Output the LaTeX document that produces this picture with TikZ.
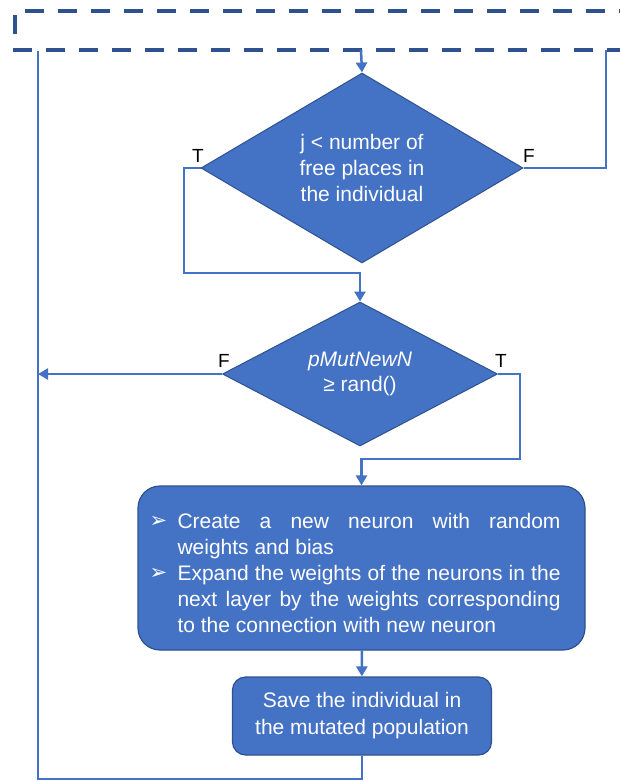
\documentclass[tikz,border=0pt]{standalone}
\usepackage{fontspec}
\setmainfont{Liberation Sans}
\newfontfamily\dejavu{DejaVu Sans}
\usetikzlibrary{shapes.geometric,arrows.meta}
\definecolor{fillblue}{HTML}{4472C4}
\definecolor{edgeblue}{HTML}{2F528F}
\newcommand\bitem[1]{\par\noindent\hangindent=28pt\hangafter=1\makebox[28pt][l]{\raisebox{1pt}{\dejavu\fontsize{21}{21}\selectfont ➢}}#1\par}
\begin{document}
\begin{tikzpicture}[x=1pt,y=-1pt,
  conn/.style={draw=fillblue, line width=2.5pt},
  arr/.style={conn, -{Triangle[length=10pt,width=11pt]}},
  dec/.style={diamond, draw=edgeblue, fill=fillblue, line width=1pt, inner sep=0pt, text=white, align=center, font=\fontsize{21}{25.7}\selectfont},
  proc/.style={rectangle, draw=edgeblue, fill=fillblue, line width=1.2pt, text=white, align=center, font=\fontsize{21}{27}\selectfont},
  lab/.style={font=\fontsize{19}{19}\selectfont, text=black, inner sep=0pt}
]
\useasboundingbox (0,0) rectangle (620,781);
% dashed loop frame
\draw[draw=edgeblue, line width=4pt, dash pattern=on 19pt off 14pt, dash phase=19pt] (640,50) -- (15,50) -- (15,11) -- (640,11);
\coordinate (topin) at (361,50);
\coordinate (rtop) at (606,50);
\coordinate (ltop) at (38,51);
\coordinate (lbot) at (38,779);
\coordinate (c1) at (184,273);
\coordinate (c2) at (520,459);

\node[dec, minimum width=322pt, minimum height=190pt, aspect=1.7] (d1) at (362,168) {j < number of\\free places in\\the individual};
\node[dec, minimum width=275pt, minimum height=144pt, aspect=1.9] (d2) at (360,374) {\textit{pMutNewN}\\≥ rand()};
\node[proc, rounded corners=22pt, minimum width=447pt, minimum height=164pt] (b1) at (361.5,568) {};
\node[text=white, text width=411pt, inner sep=0pt, align=justify, font=\fontsize{21}{26}\selectfont] (b1t) at (355,568) {\tolerance=10000\parindent=0pt
\bitem{Create a new neuron with random\linebreak weights and bias}
\bitem{Expand the weights of the neurons in the next layer by the weights corresponding to the connection with new neuron}};
\node[proc, rounded corners=13pt, minimum width=259pt, minimum height=78pt] (b2) at (362,716) {Save the individual in\\the mutated population};

\node[lab] (t1) at (198,156) {T};
\node[lab] (f1) at (529,156) {F};
\node[lab] (f2) at (224,361) {F};
\node[lab] (t2) at (501,361) {T};

\draw[arr] (topin) -- (d1.north);
\draw[conn] (d1.east) -| (rtop);
\draw[arr] (d1.west) -| (c1) -| (d2.north);
\draw[arr] (d2.west) -- (d2.west -| ltop);
\draw[arr] (d2.east) -| (c2) -| (b1.north);
\draw[arr] (b1) -- (b2);
\draw[conn] (b2.south) |- (lbot) -- (ltop);
\end{tikzpicture}
\end{document}
